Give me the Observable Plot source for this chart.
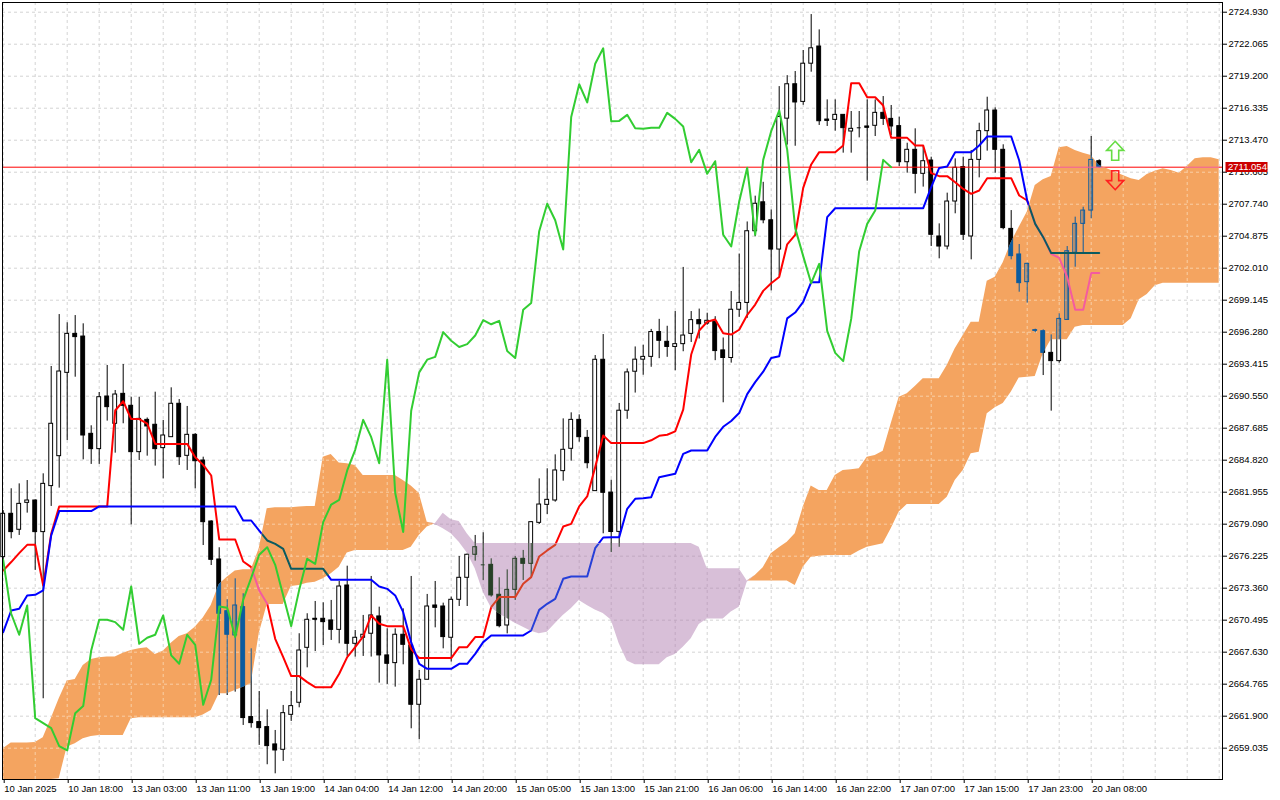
<!DOCTYPE html>
<html>
<head>
<meta charset="utf-8">
<script src="https://cdn.jsdelivr.net/npm/d3@7"></script>
<script src="https://cdn.jsdelivr.net/npm/@observablehq/plot@0.6"></script>
<style>
html,body{margin:0;padding:0;background:#fff;overflow:hidden;}
#chart{width:1280px;height:800px;background:#fff;}
</style>
</head>
<body>
<div id="chart"></div>
<script>
// ---- Candles (hourly bars, index 0 = 10 Jan 2025 10:00) ----
const opens = [2676.14,2680.02,2678.59,2681.00,2681.21,2678.38,2682.50,2685.18,2692.64,2696.13,
2695.89,2687.18,2685.81,2690.52,2688.08,2690.76,2689.69,2685.54,2688.43,2687.99,
2685.90,2686.88,2689.87,2685.21,2687.09,2684.79,2679.33,2675.93,2671.30,2669.13,
2671.66,2661.82,2661.37,2660.92,2659.37,2658.89,2662.02,2663.10,2668.02,2670.62,
2670.62,2670.47,2669.63,2673.60,2668.38,2668.92,2669.28,2670.83,2667.34,2666.65,
2669.19,2668.23,2662.92,2665.16,2671.81,2671.72,2668.92,2672.32,2674.29,2676.35,
2675.45,2675.45,2672.77,2670.02,2673.21,2675.99,2675.54,2679.21,2680.82,2681.21,
2683.84,2685.84,2688.43,2686.82,2682.05,2693.81,2681.92,2678.40,2689.25,2692.74,
2693.82,2694.07,2696.29,2695.42,2694.96,2695.21,2696.13,2697.36,2697.05,2697.21,
2694.65,2693.97,2698.29,2698.90,2705.32,2707.91,2706.30,2703.68,2715.40,2718.48,
2716.90,2720.32,2721.86,2715.32,2715.29,2715.74,2714.25,2714.58,2714.70,2714.76,
2715.92,2715.38,2714.73,2711.50,2712.61,2710.46,2711.65,2704.85,2703.95,2707.98,
2711.06,2704.85,2711.71,2714.28,2716.13,2712.61,2705.53,2703.24,2700.76,2696.46,
2696.37,2694.43,2693.69,2697.38,2703.39,2705.98,2707.17,2711.59];
const highs = [2680.30,2682.26,2682.70,2683.00,2681.27,2683.60,2693.21,2697.86,2697.12,2697.77,
2697.03,2687.90,2690.88,2693.30,2691.06,2693.39,2690.46,2690.46,2688.60,2690.91,
2688.38,2691.30,2690.25,2689.63,2687.20,2685.09,2679.40,2676.98,2672.32,2674.20,
2672.86,2667.93,2664.11,2662.47,2660.62,2662.86,2664.11,2669.28,2671.07,2672.17,
2672.05,2672.26,2673.96,2675.33,2669.57,2670.92,2674.41,2671.66,2669.72,2669.72,
2671.51,2674.41,2665.99,2672.80,2673.96,2672.02,2672.56,2676.20,2676.44,2678.08,
2678.32,2675.99,2674.29,2675.00,2676.20,2676.74,2679.33,2683.15,2684.05,2685.30,
2688.52,2689.06,2688.88,2687.48,2694.19,2696.07,2683.03,2689.90,2692.99,2694.96,
2695.11,2696.53,2697.43,2696.81,2698.13,2702.08,2698.13,2698.35,2697.98,2697.67,
2695.76,2699.92,2703.28,2706.15,2708.46,2709.70,2707.23,2718.27,2719.25,2719.62,
2721.50,2724.72,2723.35,2717.08,2717.08,2715.74,2716.04,2716.04,2717.08,2717.08,
2717.38,2716.58,2715.53,2713.20,2714.49,2712.99,2711.95,2705.98,2708.73,2711.80,
2711.95,2712.55,2714.99,2717.32,2716.37,2713.06,2707.17,2704.13,2702.46,2696.55,
2696.49,2696.04,2697.92,2703.95,2706.58,2707.47,2713.80,2711.71];
const lows = [2675.90,2677.78,2678.08,2680.08,2674.95,2663.46,2680.68,2682.32,2686.58,2692.25,
2684.85,2684.44,2684.44,2688.32,2685.45,2688.08,2679.03,2684.79,2685.18,2684.29,
2683.15,2686.88,2684.35,2683.90,2682.26,2677.18,2675.39,2663.75,2663.75,2664.05,
2661.07,2660.83,2659.28,2657.55,2656.74,2657.85,2661.43,2662.65,2666.23,2667.69,
2668.23,2668.68,2668.38,2667.25,2667.19,2667.25,2667.19,2664.86,2664.74,2664.50,
2666.50,2660.77,2659.79,2665.16,2669.81,2667.93,2666.74,2671.72,2671.72,2675.78,
2674.05,2672.56,2669.81,2669.27,2672.26,2674.05,2674.35,2679.06,2679.96,2681.06,
2682.94,2684.73,2686.43,2684.05,2682.05,2678.23,2676.55,2677.02,2688.48,2690.83,
2692.43,2693.14,2693.91,2694.03,2692.83,2694.53,2695.36,2695.67,2696.90,2693.73,
2689.96,2693.51,2697.61,2697.52,2704.82,2705.99,2699.98,2701.31,2713.03,2712.93,
2716.60,2719.56,2714.79,2714.70,2714.28,2712.31,2712.31,2713.68,2709.80,2713.80,
2714.79,2713.89,2711.12,2710.52,2708.67,2709.27,2703.95,2702.85,2703.65,2706.88,
2704.49,2702.76,2710.10,2712.49,2710.52,2705.45,2702.76,2699.86,2698.88,2696.22,
2692.40,2689.21,2693.51,2697.38,2702.10,2703.39,2706.43,2710.97];
const closes = [2680.02,2678.38,2680.91,2681.21,2678.38,2682.70,2688.08,2692.76,2696.13,2695.84,
2687.03,2685.81,2690.46,2689.57,2690.70,2689.69,2685.54,2688.52,2687.84,2685.81,
2687.03,2689.87,2685.09,2687.09,2684.73,2679.27,2675.90,2671.07,2669.19,2671.81,
2661.73,2661.28,2660.83,2659.22,2658.83,2662.17,2662.80,2667.78,2670.53,2670.53,
2670.32,2669.63,2673.51,2668.38,2668.92,2669.19,2670.92,2667.34,2666.59,2669.19,
2668.29,2662.92,2665.16,2671.72,2671.60,2668.98,2672.32,2674.29,2676.35,2677.03,
2675.45,2672.71,2669.96,2673.21,2675.99,2675.54,2679.27,2680.85,2681.27,2683.90,
2685.75,2688.43,2686.88,2684.55,2693.81,2681.90,2678.39,2689.25,2692.68,2693.82,
2694.07,2696.29,2695.51,2694.96,2695.21,2695.98,2697.36,2696.99,2697.30,2694.59,
2693.97,2698.29,2698.90,2705.32,2707.78,2706.30,2703.68,2715.55,2718.48,2716.85,
2720.32,2721.70,2715.17,2715.20,2715.74,2714.55,2714.49,2714.58,2714.58,2715.92,
2715.38,2714.70,2711.50,2712.61,2710.46,2711.59,2705.00,2703.95,2707.98,2711.00,
2705.00,2711.71,2714.28,2716.13,2712.61,2705.60,2703.09,2700.67,2702.40,2696.40,
2694.43,2693.69,2697.47,2703.53,2705.98,2707.17,2711.71,2711.054];

// ---- Ichimoku lines ----
const tenkan = [2674.94,2675.7,2676.5,2677.24,2677.24,2673.6,2678.23,2680.68,2680.68,2680.68,
2680.68,2680.68,2680.68,2680.68,2689.27,2690.1,2688.5,2688.5,2688.1,2686.28,
2686.28,2686.28,2686.28,2686.28,2685.09,2684.4,2683.45,2677.72,2677.72,2677.72,
2675.75,2675.24,2673.16,2671.96,2668.83,2667.19,2665.49,2665.49,2664.95,2664.5,
2664.5,2664.5,2665.7,2667.19,2668.08,2669.04,2670.92,2670.17,2669.96,2669.96,
2669.96,2667.9,2667.1,2667.1,2667.1,2667.1,2667.1,2668.08,2668.08,2668.98,
2668.98,2671.66,2672.56,2672.56,2672.56,2673.75,2674.35,2676.2,2676.74,2677.24,
2678.88,2679.12,2680.68,2681.57,2684.2,2687.03,2686.35,2686.35,2686.35,2686.35,
2686.35,2686.6,2687.0,2687.1,2687.4,2689.35,2694.28,2696.43,2697.21,2697.42,
2696.19,2696.07,2696.5,2697.82,2698.75,2699.98,2700.66,2701.22,2704.15,2705.0,
2709.2,2711.3,2712.4,2712.4,2712.4,2713.0,2718.58,2718.58,2717.32,2717.32,
2716.58,2713.68,2713.68,2713.68,2713.0,2713.0,2710.52,2710.25,2710.25,2709.71,
2709.11,2708.67,2708.97,2710.07,2710.07,2710.07,2710.07,2708.52,2708.07,2705.98,
2704.79,2703.3,2702.94,2701.21,2698.28,2698.28,2701.57,2701.57];
const kijun = [2669.42,2671.36,2671.51,2672.71,2672.77,2673.16,2678.08,2680.26,2680.26,2680.26,
2680.26,2680.26,2680.68,2680.68,2680.68,2680.68,2680.68,2680.68,2680.68,2680.68,
2680.68,2680.68,2680.68,2680.68,2680.68,2680.68,2680.68,2680.68,2680.68,2680.68,
2679.42,2679.42,2678.52,2677.63,2677.33,2676.88,2675.09,2675.09,2675.09,2675.09,
2675.09,2674.11,2674.11,2674.11,2674.11,2674.11,2674.11,2673.51,2673.3,2672.71,
2671.21,2668.5,2666.59,2666.14,2666.14,2666.14,2666.14,2666.59,2666.59,2667.48,
2668.53,2669.13,2669.13,2669.13,2669.13,2669.13,2669.57,2671.42,2671.96,2672.41,
2674.2,2674.41,2674.41,2674.41,2676.94,2677.9,2677.93,2677.93,2680.47,2681.36,
2681.42,2681.51,2683.3,2683.45,2683.6,2685.39,2685.69,2685.69,2685.69,2686.9,
2687.81,2688.33,2689.04,2690.74,2691.81,2692.74,2693.97,2694.13,2697.52,2698.04,
2699.0,2700.76,2700.76,2706.58,2707.38,2707.38,2707.38,2707.38,2707.38,2707.38,
2707.38,2707.38,2707.38,2707.38,2707.38,2707.38,2709.27,2710.99,2711.12,2712.4,
2712.4,2712.4,2713.0,2713.8,2713.8,2713.8,2713.8,2711.65,2708.07,2705.98,
2704.79,2703.36,2703.36,2703.36,2703.36,2703.36,2703.36,2703.36];
// Senkou spans as drawn (already shifted forward), bars 0..152
const spanA = [2658.98,2659.49,2659.49,2659.49,2659.55,2659.97,2661.66,2663.46,2665.04,2665.19,
2666.44,2666.98,2667.13,2667.19,2667.19,2667.54,2667.78,2667.93,2668.02,2667.42,
2667.72,2668.44,2669.04,2669.28,2669.87,2670.7,2671.8,2673.69,2674.35,2674.89,
2675.0,2675.0,2676.88,2680.47,2680.56,2680.56,2680.56,2680.62,2680.68,2680.68,
2685.09,2685.33,2684.56,2684.5,2684.35,2683.45,2683.45,2683.45,2683.45,2683.45,
2683.0,2682.5,2681.87,2679.27,2679.06,2678.68,2678.23,2677.48,2676.5,2675.09,
2673.0,2671.6,2671.07,2670.62,2670.23,2669.87,2669.51,2669.27,2669.42,2670.17,
2670.92,2671.51,2672.26,2671.81,2671.4,2671.1,2670.5,2668.38,2666.83,2666.5,
2666.5,2666.5,2666.5,2667.13,2667.42,2668.08,2668.83,2670.11,2670.59,2670.59,
2670.59,2671.22,2671.66,2673.9,2674.5,2675.18,2676.44,2676.98,2677.48,2678.23,
2680.6,2682.5,2682.11,2682.11,2683.45,2683.9,2683.96,2684.05,2685.09,2685.24,
2685.63,2688.08,2690.46,2690.76,2691.42,2692.11,2692.11,2692.11,2693.3,2694.79,
2695.98,2697.18,2697.18,2700.85,2701.21,2702.5,2704.3,2705.68,2707.03,2709.41,
2709.92,2710.22,2712.79,2712.91,2712.55,2712.31,2712.1,2711.2,2710.91,2710.61,
2710.31,2710.01,2709.86,2710.4,2710.7,2710.91,2710.76,2710.52,2711.11,2711.8,
2711.89,2711.89,2711.71];
const spanB = [2656.23,2656.23,2656.23,2656.23,2656.23,2656.23,2656.23,2656.3,2659.13,2659.43,
2659.88,2660.08,2660.17,2660.17,2660.17,2660.17,2661.66,2661.75,2661.75,2661.75,
2661.75,2661.75,2661.75,2661.75,2661.75,2662.0,2662.4,2663.9,2663.9,2664.2,
2664.5,2664.8,2669.28,2671.9,2671.9,2671.9,2673.51,2673.6,2673.81,2673.9,
2674.2,2674.65,2675.24,2676.5,2676.74,2676.74,2676.74,2676.74,2676.74,2676.74,
2676.74,2677.03,2678.08,2678.83,2679.12,2680.08,2679.48,2679.33,2678.23,2677.35,
2677.35,2677.35,2677.35,2677.35,2677.35,2677.35,2677.35,2677.35,2677.35,2677.35,
2677.35,2677.35,2677.35,2677.35,2677.35,2677.35,2677.35,2677.35,2677.35,2677.35,
2677.35,2677.35,2677.35,2677.35,2677.35,2677.35,2677.35,2677.03,2675.09,2675.09,
2675.09,2675.09,2675.09,2674.0,2674.0,2674.0,2674.0,2674.0,2674.0,2673.6,
2675.24,2676.14,2676.23,2676.29,2676.29,2676.29,2676.29,2676.68,2677.03,2677.18,
2677.33,2678.68,2680.17,2680.85,2680.85,2680.85,2680.85,2680.85,2681.51,2683.0,
2683.9,2685.39,2685.54,2688.97,2689.51,2689.9,2690.9,2692.19,2692.25,2692.31,
2694.34,2695.6,2695.6,2695.6,2696.73,2696.88,2696.88,2696.88,2696.88,2696.88,
2696.88,2697.48,2699.18,2699.66,2700.43,2700.67,2700.67,2700.67,2700.67,2700.67,
2700.67,2700.67,2700.67];
const chikouShift = 26;
const lastPrice = 2711.054;

// ---- Signal arrows ----
const signalIdx = [139, 139];
const signalVal = [2712.52, 2709.89];
const signalDir = ["up", "down"];

// ---- Axis ticks ----
const xTickIdx = [0,8,16,24,32,40,48,56,64,72,80,88,96,104,112,120,128,136];
const xTickLabels = ["10 Jan 2025","10 Jan 18:00","13 Jan 03:00","13 Jan 11:00","13 Jan 19:00",
"14 Jan 04:00","14 Jan 12:00","14 Jan 20:00","15 Jan 05:00","15 Jan 13:00","15 Jan 21:00",
"16 Jan 06:00","16 Jan 14:00","16 Jan 22:00","17 Jan 07:00","17 Jan 15:00","17 Jan 23:00","20 Jan 08:00"];
const yTicks = [2659.035,2661.900,2664.765,2667.630,2670.495,2673.360,2676.225,2679.090,2681.955,
2684.820,2687.685,2690.550,2693.415,2696.280,2699.145,2702.010,2704.875,2707.740,2710.605,
2713.470,2716.335,2719.200,2722.065,2724.930];

// ---- build tables ----
const candles = opens.map((o, i) => ({i, open: o, high: highs[i], low: lows[i], close: closes[i]}));
const bull = candles.filter(d => d.close >= d.open);
const bear = candles.filter(d => d.close < d.open);
const doji = candles.filter(d => Math.abs(d.close - d.open) < 0.05);
const ichi = tenkan.map((t, i) => ({i, tenkan: t, kijun: kijun[i]}));
const cloud = spanA.map((a, i) => ({i, a, b: spanB[i], top: Math.max(a, spanB[i])}));
const chikou = closes.slice(chikouShift).map((c, j) => ({i: j, v: c}));
const signals = signalIdx.map((x, k) => ({i: x, v: signalVal[k], dir: signalDir[k]}));
const labelMap = new Map(xTickIdx.map((d, k) => [d, xTickLabels[k]]));

const hw = 0.24;
const arrowSym = (up) => ({
  draw(ctx, size) {
    const s = Math.sqrt(size / Math.PI);
    const k = up ? 1 : -1;
    ctx.moveTo(0, -s * k);
    ctx.lineTo(0.9 * s, -0.05 * s * k);
    ctx.lineTo(0.37 * s, -0.05 * s * k);
    ctx.lineTo(0.37 * s, s * k);
    ctx.lineTo(-0.37 * s, s * k);
    ctx.lineTo(-0.37 * s, -0.05 * s * k);
    ctx.lineTo(-0.9 * s, -0.05 * s * k);
    ctx.closePath();
  }
});

function priceLabel(index, scales, values, dimensions) {
  const y = Math.round(scales.y(lastPrice));
  const x0 = dimensions.width - dimensions.marginRight;
  const g = d3.create("svg:g");
  g.append("rect").attr("x", x0 + 3.5).attr("y", y - 5).attr("width", 42).attr("height", 10).attr("fill", "#cc0000");
  g.append("text").attr("x", x0 + 6).attr("y", y).attr("dy", "0.36em").attr("fill", "white")
    .attr("text-anchor", "start")
    .attr("font-family", "Liberation Sans, Arial, sans-serif").attr("font-size", 9.5).text(lastPrice.toFixed(3));
  return g.node();
}

// empty marker element used to find groups of marks after rendering
const marker = (tag) => () => { const g = document.createElementNS("http://www.w3.org/2000/svg", "g"); g.setAttribute("data-marker", tag); return g; };

// Chart layer (grid, candles, price line, tenkan, kijun) in a given palette
function layer(c) {
  return [
    Plot.gridY(yTicks, {stroke: c.grid, strokeOpacity: 1, strokeDasharray: "3,3"}),
    Plot.gridX(d3.range(0, 153, 4), {stroke: c.grid, strokeOpacity: 1, strokeDasharray: "3,3"}),
    Plot.ruleX(candles, {x: "i", y1: "low", y2: "high", stroke: c.ink, strokeWidth: 1}),
    Plot.rect(bull, {x1: d => d.i - hw, x2: d => d.i + hw, y1: "open", y2: "close", fill: c.paper, stroke: c.ink, strokeWidth: 1}),
    Plot.rect(bear, {x1: d => d.i - hw, x2: d => d.i + hw, y1: "open", y2: "close", fill: c.ink, stroke: c.ink, strokeWidth: 1}),
    Plot.ruleY(doji, {x1: d => d.i - hw, x2: d => d.i + hw, y: "open", stroke: c.ink}),
    Plot.ruleY([lastPrice], {stroke: c.red, strokeWidth: 1}),
    Plot.line(ichi, {x: "i", y: "tenkan", stroke: c.red, strokeWidth: 2}),
    Plot.line(ichi, {x: "i", y: "kijun", stroke: c.blue, strokeWidth: 2})
  ];
}
const basePal = {grid: "#d4d4d4", ink: "#000000", paper: "#ffffff", red: "#ff0000", blue: "#0000ff"};
const upPal   = {grid: "#f9cfa6", ink: "#0b5b9f", paper: "none", red: "#f45b9f", blue: "#0b5b60"};
const dnPal   = {grid: "#c2a9c2", ink: "#274027", paper: "none", red: "#d84027", blue: "#2740d8"};

const svg = Plot.plot({
  width: 1280,
  height: 800,
  marginLeft: 2,
  marginRight: 58,
  marginTop: 2,
  marginBottom: 21,
  x: {type: "linear", domain: [-0.0875, 152.4125]},
  y: {type: "linear", domain: [2656.23, 2725.80]},
  style: {fontFamily: "Liberation Sans, Arial, sans-serif", fontSize: "9.5px", color: "black", background: "white"},
  marks: [
    Plot.frame({fill: "white"}),
    ...layer(basePal),
    marker("cloudup"),
    Plot.area(cloud, {x1: "i", y1: "b", y2: "top", fill: "#f4a460"}),
    marker("clouddn"),
    Plot.area(cloud, {x1: "i", y1: "a", y2: "top", fill: "#d8bfd8"}),
    marker("xorup"),
    ...layer(upPal),
    marker("xordn"),
    ...layer(dnPal),
    marker("end"),
    Plot.line(chikou, {x: "i", y: "v", stroke: "#32cd32", strokeWidth: 2}),
    Plot.dot(signals.filter(d => d.dir === "up"), {x: "i", y: "v", r: 9.5, symbol: arrowSym(true), fill: "none", stroke: "#66dd44", strokeWidth: 1.6}),
    Plot.dot(signals.filter(d => d.dir === "down"), {x: "i", y: "v", r: 9.5, symbol: arrowSym(false), fill: "none", stroke: "#ff2020", strokeWidth: 1.6}),
    Plot.frame({stroke: "black"}),
    Plot.axisX(xTickIdx, {tickFormat: d => labelMap.get(d), tickSize: 4, tickPadding: 2, textAnchor: "start", dx: 1, label: null}),
    Plot.axisY(yTicks, {anchor: "right", tickFormat: d => d.toFixed(3), tickSize: 4, tickPadding: 2, label: null}),
    priceLabel
  ]
});

// Clip the recoloured layers to the cloud shapes (emulates the XOR painting of the cloud)
const NS = "http://www.w3.org/2000/svg";
let defs = document.createElementNS(NS, "defs");
svg.insertBefore(defs, svg.firstChild);
const kids = Array.from(svg.children);
const posOf = tag => kids.findIndex(e => e.getAttribute && e.getAttribute("data-marker") === tag);
function makeClip(tag, id) {
  const k = posOf(tag);
  const src = kids[k + 1];
  const cp = document.createElementNS(NS, "clipPath");
  cp.setAttribute("id", id);
  let n = 0;
  if (src) {
    const list = src.tagName.toLowerCase() === "path" ? [src] : Array.from(src.querySelectorAll("path"));
    list.forEach(p0 => {
      const p = document.createElementNS(NS, "path");
      p.setAttribute("d", p0.getAttribute("d"));
      const t = src.getAttribute("transform"); if (t) p.setAttribute("transform", t);
      cp.appendChild(p); n++;
    });
  }
  defs.appendChild(cp);
  return n;
}
const n1 = makeClip("cloudup", "clip-up");
const n2 = makeClip("clouddn", "clip-dn");
function applyClip(fromTag, toTag, id) {
  const a = posOf(fromTag), b = posOf(toTag);
  for (let k = a + 1; k < b; k++) kids[k].setAttribute("clip-path", `url(#${id})`);
}
applyClip("xorup", "xordn", "clip-up");
applyClip("xordn", "end", "clip-dn");
document.getElementById("chart").append(svg);
if (!n1 || !n2) {
  const t = document.createElement("div");
  t.style.cssText = "position:absolute;left:300px;top:20px;font:12px monospace;color:#000;background:#ff0";
  t.textContent = "debug " + n1 + " " + n2 + " " + kids.map(e => e.tagName).join(",");
  document.body.appendChild(t);
}
</script>
</body>
</html>
